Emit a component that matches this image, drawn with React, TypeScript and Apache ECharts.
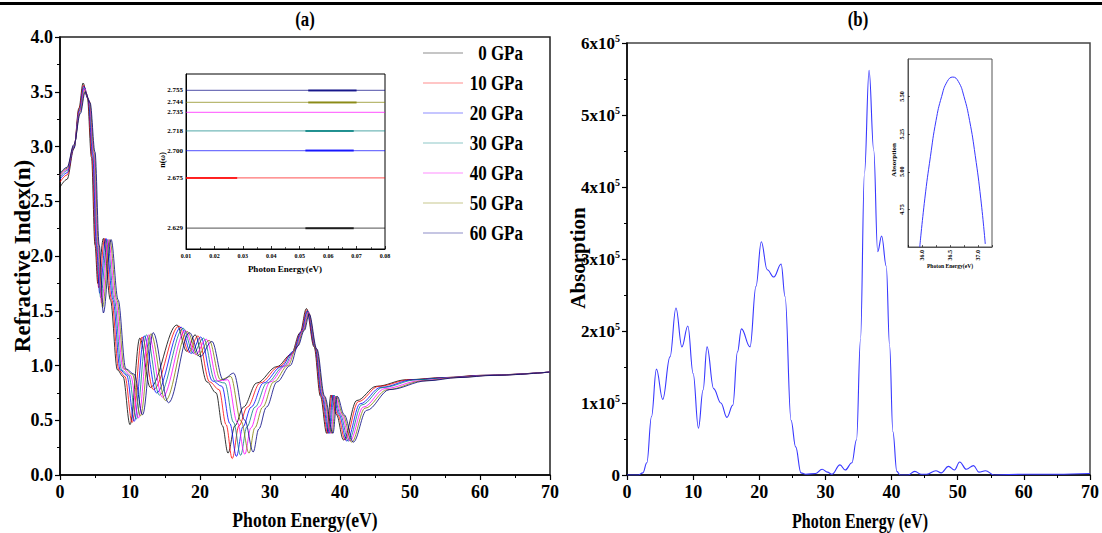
import React, { useEffect, useRef } from "react";
import * as echarts from "echarts";

const FONT = "'Liberation Serif', 'Times New Roman', serif";

const pressures = ["0 GPa", "10 GPa", "20 GPa", "30 GPa", "40 GPa", "50 GPa", "60 GPa"];
const colors = ["#000000", "#ff0000", "#0000ff", "#008080", "#ff00ff", "#808000", "#000080"];

// Panel (a): refractive index n(E) per pressure
const energy0 = [0, 1.0, 2.0, 2.7, 3.3, 3.9, 4.5, 5.0, 5.4, 6.2, 7.2, 8.2, 9.0, 10.0, 11.4, 12.9, 16.7, 18.1, 19.3, 21.0, 22.3, 23.2, 24.0, 25.0, 26.2, 28.1, 31.0, 33.0, 34.3, 35.2, 36.3, 37.2, 38.1, 38.7, 39.5, 40.5, 42.4, 45.2, 49.5, 55, 60, 70];
const n0 = [2.629, 2.70, 2.98, 3.35, 3.58, 3.45, 2.90, 2.10, 1.75, 2.16, 1.60, 0.96, 0.90, 0.46, 1.25, 0.80, 1.37, 1.13, 1.28, 0.85, 0.75, 0.45, 0.20, 0.45, 0.62, 0.84, 0.99, 1.10, 1.30, 1.52, 1.17, 0.72, 0.38, 0.73, 0.55, 0.32, 0.68, 0.81, 0.87, 0.89, 0.91, 0.94];
const energy10 = [0, 1.0, 2.0, 2.73, 3.35, 3.97, 4.58, 5.1, 5.53, 6.38, 7.38, 8.4, 9.27, 10.3, 11.72, 13.33, 17.0, 18.42, 19.7, 21.38, 22.72, 23.73, 24.6, 25.57, 26.75, 28.58, 31.32, 33.17, 34.4, 35.27, 36.37, 37.3, 38.25, 38.85, 39.68, 40.73, 42.63, 45.52, 49.98, 55.33, 60.33, 70];
const n10 = [2.675, 2.74, 2.99, 3.34, 3.56, 3.44, 2.91, 2.10, 1.71, 2.16, 1.60, 0.96, 0.90, 0.48, 1.26, 0.78, 1.36, 1.12, 1.27, 0.85, 0.78, 0.46, 0.15, 0.45, 0.62, 0.84, 0.99, 1.11, 1.30, 1.51, 1.17, 0.72, 0.38, 0.73, 0.55, 0.32, 0.67, 0.81, 0.87, 0.89, 0.91, 0.94];
const energy20 = [0, 1.0, 2.0, 2.77, 3.40, 4.03, 4.67, 5.2, 5.67, 6.57, 7.57, 8.6, 9.53, 10.6, 12.03, 13.77, 17.3, 18.73, 20.1, 21.77, 23.13, 24.27, 25.2, 26.13, 27.3, 29.07, 31.63, 33.33, 34.5, 35.33, 36.43, 37.4, 38.4, 39.0, 39.87, 40.97, 42.87, 45.83, 50.47, 55.67, 60.67, 70];
const n20 = [2.700, 2.76, 2.99, 3.33, 3.55, 3.43, 2.92, 2.10, 1.66, 2.16, 1.60, 0.96, 0.91, 0.49, 1.27, 0.75, 1.35, 1.11, 1.26, 0.86, 0.81, 0.47, 0.17, 0.44, 0.62, 0.84, 0.99, 1.13, 1.31, 1.50, 1.17, 0.72, 0.38, 0.73, 0.55, 0.31, 0.65, 0.80, 0.87, 0.89, 0.91, 0.94];
const energy30 = [0, 1.0, 2.0, 2.80, 3.45, 4.10, 4.75, 5.3, 5.80, 6.75, 7.75, 8.8, 9.80, 10.9, 12.35, 14.20, 17.6, 19.05, 20.5, 22.15, 23.55, 24.80, 25.8, 26.70, 27.85, 29.55, 31.95, 33.50, 34.6, 35.40, 36.50, 37.5, 38.55, 39.15, 40.05, 41.20, 43.10, 46.15, 50.95, 56.0, 61.0, 70];
const n30 = [2.718, 2.78, 3.00, 3.33, 3.54, 3.43, 2.93, 2.10, 1.62, 2.15, 1.60, 0.96, 0.91, 0.51, 1.28, 0.73, 1.34, 1.11, 1.25, 0.86, 0.84, 0.48, 0.18, 0.44, 0.62, 0.84, 0.99, 1.14, 1.31, 1.50, 1.16, 0.72, 0.38, 0.73, 0.55, 0.31, 0.64, 0.80, 0.87, 0.89, 0.91, 0.94];
const energy40 = [0, 1.0, 2.0, 2.83, 3.50, 4.17, 4.83, 5.4, 5.93, 6.93, 7.93, 9.0, 10.07, 11.2, 12.67, 14.63, 17.9, 19.37, 20.9, 22.53, 23.97, 25.33, 26.4, 27.27, 28.40, 30.03, 32.27, 33.67, 34.7, 35.47, 36.57, 37.6, 38.70, 39.30, 40.23, 41.43, 43.33, 46.47, 51.43, 56.33, 61.33, 70];
const n40 = [2.735, 2.79, 3.01, 3.32, 3.53, 3.42, 2.93, 2.10, 1.57, 2.15, 1.60, 0.97, 0.91, 0.52, 1.28, 0.71, 1.32, 1.10, 1.24, 0.86, 0.87, 0.48, 0.19, 0.43, 0.62, 0.85, 1.00, 1.15, 1.32, 1.49, 1.16, 0.72, 0.38, 0.72, 0.55, 0.31, 0.62, 0.79, 0.86, 0.89, 0.91, 0.94];
const energy50 = [0, 1.0, 2.0, 2.87, 3.55, 4.23, 4.92, 5.5, 6.07, 7.12, 8.12, 9.2, 10.33, 11.5, 12.98, 15.07, 18.2, 19.68, 21.3, 22.92, 24.38, 25.87, 27.0, 27.83, 28.95, 30.52, 32.58, 33.83, 34.8, 35.53, 36.63, 37.7, 38.85, 39.45, 40.42, 41.67, 43.57, 46.78, 51.92, 56.67, 61.67, 70];
const n50 = [2.744, 2.80, 3.01, 3.31, 3.51, 3.41, 2.94, 2.10, 1.53, 2.15, 1.60, 0.97, 0.92, 0.54, 1.29, 0.68, 1.31, 1.09, 1.23, 0.87, 0.90, 0.49, 0.20, 0.43, 0.62, 0.85, 1.00, 1.17, 1.32, 1.48, 1.15, 0.72, 0.38, 0.72, 0.55, 0.30, 0.61, 0.78, 0.86, 0.89, 0.91, 0.94];
const energy60 = [0, 1.0, 2.0, 2.9, 3.6, 4.3, 5.0, 5.6, 6.2, 7.3, 8.3, 9.4, 10.6, 11.8, 13.3, 15.5, 18.5, 20.0, 21.7, 23.3, 24.8, 26.4, 27.6, 28.4, 29.5, 31.0, 32.9, 34.0, 34.9, 35.6, 36.7, 37.8, 39.0, 39.6, 40.6, 41.9, 43.8, 47.1, 52.4, 57, 62, 70];
const n60 = [2.755, 2.81, 3.02, 3.30, 3.50, 3.40, 2.95, 2.10, 1.48, 2.15, 1.60, 0.97, 0.92, 0.55, 1.30, 0.66, 1.30, 1.08, 1.22, 0.87, 0.93, 0.50, 0.21, 0.42, 0.62, 0.85, 1.00, 1.18, 1.32, 1.47, 1.15, 0.72, 0.38, 0.72, 0.55, 0.30, 0.59, 0.78, 0.86, 0.89, 0.91, 0.94];

const energyByPressure = [energy0, energy10, energy20, energy30, energy40, energy50, energy60];
const nByPressure = [n0, n10, n20, n30, n40, n50, n60];

// Inset (a): static refractive index n(0)
const insetN = [2.629, 2.675, 2.700, 2.718, 2.735, 2.744, 2.755];
const insetLabels = ["2.629", "2.675", "2.700", "2.718", "2.735", "2.744", "2.755"];
const insetEnergyRange = [0.01, 0.08];
const insetThickStart = [0.052, 0.01, 0.052, 0.052, null, 0.053, 0.053];
const insetThickEnd = [0.069, 0.028, 0.069, 0.069, null, 0.07, 0.07];

// Panel (b): absorption (units of 1e5)
const absEnergy = [0, 1.7, 2.4, 3.0, 3.7, 4.45, 5.4, 6.5, 7.4, 8.3, 9.2, 10.0, 10.8, 11.5, 12.1, 13.1, 14.2, 15.1, 16.0, 16.7, 17.3, 18.6, 19.5, 20.3, 21.2, 22.2, 23.3, 23.9, 24.8, 25.5, 26.3, 27.0, 28.5, 29.5, 30.3, 31.0, 32.2, 33.0, 34.0, 34.7, 35.3, 35.9, 36.6, 37.3, 37.9, 38.5, 39.2, 39.7, 40.2, 40.8, 41.3, 42.5, 43.5, 44.5, 45.3, 46.7, 47.5, 48.6, 49.5, 50.3, 51.3, 52.4, 53.2, 54.2, 55.5, 60, 65, 70];
const absValue = [0, 0, 0.03, 0.17, 0.81, 1.47, 1.05, 1.64, 2.32, 1.78, 2.07, 1.41, 0.65, 1.18, 1.78, 1.20, 1.00, 0.80, 0.97, 1.71, 2.03, 1.78, 2.62, 3.24, 2.85, 2.75, 2.93, 2.48, 0.76, 0.39, 0.03, 0.01, 0.02, 0.08, 0.04, 0.01, 0.14, 0.07, 0.17, 0.49, 1.88, 4.19, 5.62, 4.51, 3.10, 3.32, 2.90, 1.80, 0.60, 0.05, 0.00, 0.00, 0.05, 0.01, 0.01, 0.06, 0.03, 0.12, 0.07, 0.18, 0.08, 0.13, 0.04, 0.06, 0.00, 0.01, 0.01, 0.02];

// Inset (b): zoom of the main absorption peak (units of 1e5)
const insetAbsEnergy = [35.96, 36.05, 36.15, 36.25, 36.35, 36.45, 36.55, 36.65, 36.75, 36.85, 36.95, 37.05, 37.13];
const insetAbsValue = [4.50, 4.82, 5.10, 5.34, 5.50, 5.60, 5.63, 5.60, 5.50, 5.34, 5.11, 4.82, 4.52];

const zip = (xs: number[], ys: number[]) => xs.map((x, i) => [x, ys[i]]);

const boldLabel = (size: number, extra: any = {}) => ({
  fontFamily: FONT,
  fontWeight: "bold",
  fontSize: size,
  color: "#000",
  ...extra,
});

const mainAxisLine = { show: true, lineStyle: { color: "#000", width: 1.5 } };

function text(x: number, y: number, t: string, size: number, opts: any = {}) {
  const { scaleX = 1, rotation = 0, align = "center", weight = "bold" } = opts;
  return {
    type: "text",
    x,
    y,
    scaleX,
    rotation,
    silent: true,
    z: 100,
    style: {
      text: t,
      fontFamily: FONT,
      fontWeight: weight,
      fontSize: size,
      fill: "#000",
      align,
      verticalAlign: "middle",
    },
  };
}

export default function App() {
  const ref = useRef<HTMLDivElement>(null);
  useEffect(() => {
    if (!ref.current) return;
    const chart = echarts.init(ref.current, undefined, { renderer: "svg" });

    const series: any[] = [];
    pressures.forEach((p, i) => {
      series.push({
        name: p,
        type: "line",
        xAxisIndex: 0,
        yAxisIndex: 0,
        data: zip(energyByPressure[i], nByPressure[i]),
        showSymbol: false,
        smooth: 0.35,
        smoothMonotone: "x",
        lineStyle: { color: colors[i], width: 0.8 },
        z: 3,
      });
      series.push({
        name: p + " inset",
        type: "line",
        xAxisIndex: 1,
        yAxisIndex: 1,
        data: [
          [insetEnergyRange[0], insetN[i]],
          [insetEnergyRange[1], insetN[i]],
        ],
        showSymbol: false,
        lineStyle: { color: colors[i], width: 1.2, opacity: 0.55 },
        z: 5,
      });
      if (insetThickStart[i] !== null) {
        series.push({
          name: p + " inset bold",
          type: "line",
          xAxisIndex: 1,
          yAxisIndex: 1,
          data: [
            [insetThickStart[i], insetN[i]],
            [insetThickEnd[i], insetN[i]],
          ],
          showSymbol: false,
          lineStyle: { color: colors[i], width: 2, opacity: 0.8 },
          z: 6,
        });
      }
    });
    series.push({
      name: "Absorption",
      type: "line",
      xAxisIndex: 2,
      yAxisIndex: 2,
      data: zip(absEnergy, absValue),
      showSymbol: false,
      smooth: 0.4,
      smoothMonotone: "x",
      lineStyle: { color: "#3838ff", width: 1.1 },
    });
    series.push({
      name: "Absorption inset",
      type: "line",
      xAxisIndex: 3,
      yAxisIndex: 3,
      data: zip(insetAbsEnergy, insetAbsValue),
      showSymbol: false,
      smooth: 0.5,
      lineStyle: { color: "#3838ff", width: 1 },
      z: 6,
    });

    const graphics: any[] = [
      { type: "rect", shape: { x: 0, y: 2, width: 1102, height: 3 }, style: { fill: "#000" }, silent: true },
      text(305, 19, "(a)", 21, { scaleX: 0.8 }),
      text(858, 19, "(b)", 21, { scaleX: 0.8 }),
      text(22, 256, "Refractive Index(n)", 23, { rotation: Math.PI / 2 }),
      text(305, 520, "Photon Energy(eV)", 21, { scaleX: 0.84 }),
      text(578, 258, "Absorption", 21, { rotation: Math.PI / 2 }),
      text(860, 521, "Photon Energy (eV)", 20, { scaleX: 0.8 }),
      text(285, 269, "Photon Energy(eV)", 9),
      text(162, 160, "n(\u03c9)", 8, { rotation: Math.PI / 2 }),
      text(894, 160, "Absorption", 7, { rotation: Math.PI / 2 }),
      text(950, 265, "Photon Energy(eV)", 7, { scaleX: 0.8 }),
    ];
    pressures.forEach((p, i) => {
      const y = 53 + i * 30;
      graphics.push({
        type: "line",
        shape: { x1: 423, y1: y, x2: 463, y2: y },
        style: { stroke: colors[i], lineWidth: 1, opacity: 0.45 },
        silent: true,
      });
      graphics.push(text(523, y, p, 20, { scaleX: 0.85, align: "right" }));
    });

    const insetLabelSet = new Set(insetLabels);

    chart.setOption({
      animation: false,
      backgroundColor: "#fff",
      grid: [
        { left: 60, top: 37, width: 490, height: 438, show: true, borderColor: "#222", borderWidth: 1.5 },
        { left: 186, top: 74, width: 199, height: 175, show: true, borderColor: "#000", borderWidth: 1, backgroundColor: "#fff", z: 4 },
        { left: 627, top: 43, width: 466, height: 432, show: true, borderColor: "#444", borderWidth: 1.5 },
        { left: 908, top: 59, width: 84, height: 188, show: true, borderColor: "#555", borderWidth: 1, backgroundColor: "#fff", z: 4 },
      ],
      xAxis: [
        {
          gridIndex: 0, type: "value", min: 0, max: 70, interval: 10,
          axisLine: mainAxisLine,
          axisTick: { show: true, length: 5, lineStyle: { color: "#000", width: 1.2 } },
          minorTick: { show: true, splitNumber: 2, length: 3, lineStyle: { color: "#000", width: 1 } },
          splitLine: { show: false },
          axisLabel: boldLabel(18, { margin: 8 }),
        },
        {
          gridIndex: 1, type: "value", min: 0.01, max: 0.08, interval: 0.01,
          axisLine: { show: true, lineStyle: { color: "#000", width: 1 } },
          axisTick: { show: true, inside: true, length: 3, lineStyle: { color: "#000", width: 0.8 } },
          minorTick: { show: true, splitNumber: 2, length: 2, lineStyle: { color: "#000", width: 0.6 } },
          splitLine: { show: false },
          axisLabel: boldLabel(6, { margin: 4, formatter: (v: number) => v.toFixed(2) }),
          z: 5,
        },
        {
          gridIndex: 2, type: "value", min: 0, max: 70, interval: 10,
          axisLine: mainAxisLine,
          axisTick: { show: true, length: 5, lineStyle: { color: "#000", width: 1.2 } },
          minorTick: { show: true, splitNumber: 2, length: 3, lineStyle: { color: "#000", width: 1 } },
          splitLine: { show: false },
          axisLabel: boldLabel(18, { margin: 8 }),
        },
        {
          gridIndex: 3, type: "value", min: 35.75, max: 37.25, interval: 0.25,
          axisLine: { show: true, lineStyle: { color: "#555", width: 1 } },
          axisTick: { show: true, inside: true, length: 2, lineStyle: { color: "#000", width: 0.6 } },
          splitLine: { show: false },
          axisLabel: boldLabel(6, {
            margin: 3,
            rotate: 90,
            interval: 0,
            formatter: (v: number) => {
              const r = Math.round(v * 100) / 100;
              return r === 36 || r === 36.5 || r === 37 ? r.toFixed(1) : "";
            },
          }),
          z: 5,
        },
      ],
      yAxis: [
        {
          gridIndex: 0, type: "value", min: 0, max: 4, interval: 0.5,
          axisLine: mainAxisLine,
          axisTick: { show: true, length: 5, lineStyle: { color: "#000", width: 1.2 } },
          minorTick: { show: true, splitNumber: 2, length: 3, lineStyle: { color: "#000", width: 1 } },
          splitLine: { show: false },
          axisLabel: boldLabel(18, { margin: 7, formatter: (v: number) => v.toFixed(1) }),
        },
        {
          gridIndex: 1, type: "value", min: 2.61, max: 2.77, interval: 0.001,
          axisLine: { show: true, lineStyle: { color: "#000", width: 1 } },
          axisTick: { show: false },
          splitLine: { show: false },
          axisLabel: boldLabel(7, {
            margin: 3,
            interval: 0,
            formatter: (v: number) => {
              const s = v.toFixed(3);
              return insetLabelSet.has(s) ? s : "";
            },
          }),
          z: 5,
        },
        {
          gridIndex: 2, type: "value", min: 0, max: 6, interval: 1,
          axisLine: mainAxisLine,
          axisTick: { show: true, length: 5, lineStyle: { color: "#000", width: 1.2 } },
          minorTick: { show: true, splitNumber: 2, length: 3, lineStyle: { color: "#000", width: 1 } },
          splitLine: { show: false },
          axisLabel: {
            margin: 7,
            formatter: (v: number) => (v === 0 ? "{m|0}" : `{m|${v}x10}{s|5}`),
            rich: {
              m: { fontFamily: FONT, fontWeight: "bold", fontSize: 17, color: "#000", lineHeight: 20, verticalAlign: "middle" },
              s: { fontFamily: FONT, fontWeight: "bold", fontSize: 10, color: "#000", lineHeight: 20, verticalAlign: "top", padding: [0, 0, 6, 0] },
            },
          },
        },
        {
          gridIndex: 3, type: "value", min: 4.5, max: 5.75, interval: 0.25,
          axisLine: { show: true, lineStyle: { color: "#555", width: 1 } },
          axisTick: { show: true, inside: true, length: 2, lineStyle: { color: "#000", width: 0.6 } },
          splitLine: { show: false },
          axisLabel: boldLabel(6, {
            margin: 3,
            rotate: 90,
            showMinLabel: false,
            showMaxLabel: false,
            formatter: (v: number) => v.toFixed(2),
          }),
          z: 5,
        },
      ],
      series,
      graphic: graphics,
    });
    return () => chart.dispose();
  }, []);

  return (
    <div
      ref={ref}
      style={{ position: "absolute", left: 0, top: 0, width: 1102, height: 533, background: "#fff" }}
    />
  );
}
